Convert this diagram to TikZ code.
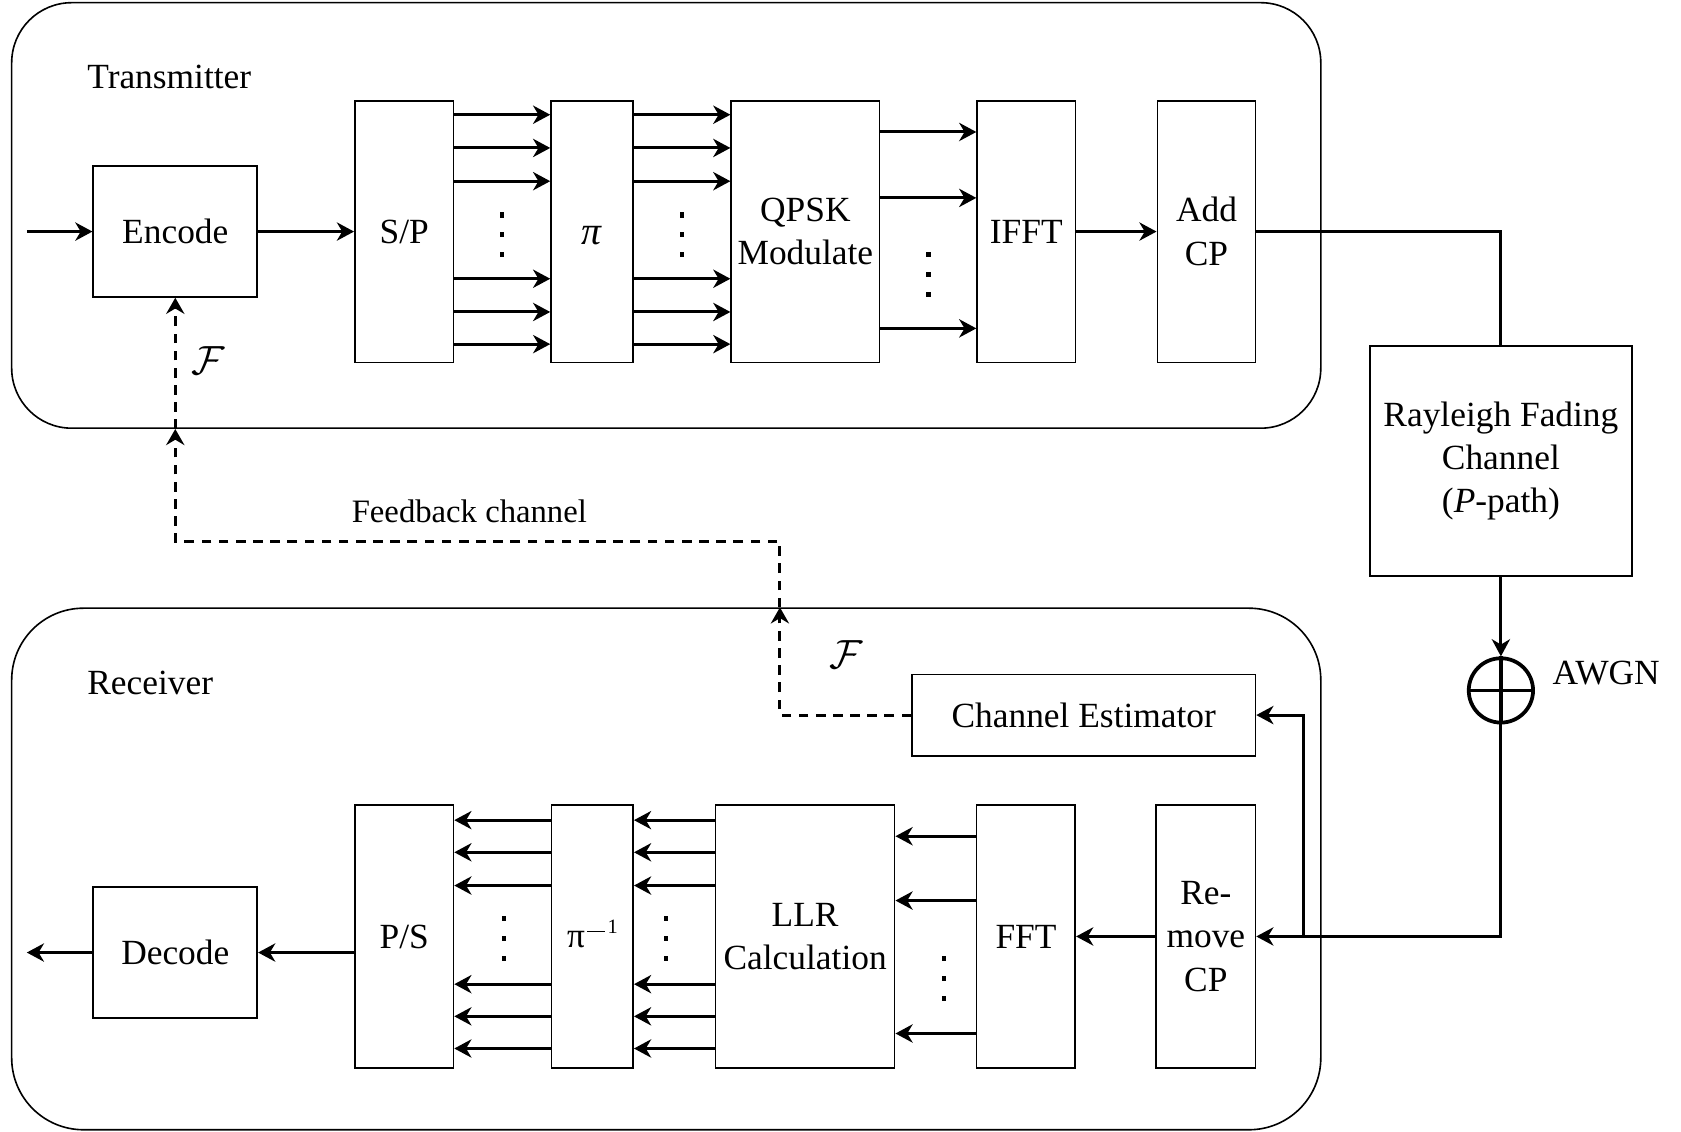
\RequirePackage{fix-cm}
\documentclass[tikz,border=0pt]{standalone}
\usepackage{fontspec}
\setmainfont{Liberation Serif}
\usetikzlibrary{arrows.meta,calc}

\tikzset{
  blk/.style={draw, line width=1.5pt, inner sep=0pt, align=center,
              font=\fontsize{33}{40.5}\selectfont},
  container/.style={draw, line width=1.5pt, inner sep=0pt},
  lbl/.style={inner sep=0pt, font=\fontsize{33}{40.5}\selectfont},
  wire/.style={line width=2.8pt},
  arr/.style={line width=2.8pt, -{Stealth[length=16pt,width=17pt,inset=5pt]}},
  fb/.style={line width=2.8pt, dash pattern=on 9pt off 7pt},
  fbarr/.style={fb, -{Stealth[length=15pt,width=17pt,inset=5pt]}},
  callig/.style={inner sep=0pt, font=\fontsize{38}{38}\selectfont},
}

\begin{document}
\begin{tikzpicture}[x=1pt, y=-1pt]
\useasboundingbox (0,0) rectangle (1568,1055);

% transmitter and receiver frames
\node[container, rounded corners=56pt, minimum width=1221.1pt, minimum height=396.9pt] (tx) at (621.45,200.95) {};
\node[container, rounded corners=67pt, minimum width=1221.1pt, minimum height=486.5pt] (rx) at (621.45,810.55) {};
\node[lbl, anchor=base west] (txlbl) at (81.3,83) {Transmitter};
\node[lbl, anchor=base west] (rxlbl) at (81.3,648) {Receiver};

% transmitter chain
\node[blk, minimum width=153pt, minimum height=122pt] (enc) at (163.5,216) {Encode};
\node[blk, minimum width=92pt, minimum height=244pt] (sp) at (377,216) {S/P};
\node[blk, minimum width=76.6pt, minimum height=244pt] (pi) at (552.3,216)
  {\smash{\raisebox{-12pt}{\fontsize{37}{37}\selectfont\textit{π}}}};
\node[blk, minimum width=138.3pt, minimum height=244pt] (qpsk) at (751.2,216) {QPSK\\Modulate};
\node[blk, minimum width=91.7pt, minimum height=244pt] (ifft) at (957.3,216) {IFFT};
\node[blk, minimum width=91.7pt, minimum height=244pt] (addcp) at (1125.4,216) {Add\\CP};

% channel
\node[blk, minimum width=244pt, minimum height=214pt] (ray) at (1400,430) {Rayleigh Fading\\Channel\\(\textit{P}-path)};
\node[circle, draw, line width=3.5pt, minimum size=60pt, inner sep=0pt] (sum) at (1400,644) {};
\draw[line width=3.5pt] (sum.north) -- (sum.south) (sum.west) -- (sum.east);
\node[lbl, anchor=west] (awgn) at (1448,628) {AWGN};

% receiver chain
\node[blk, minimum width=320.3pt, minimum height=76pt] (chest) at (1010.9,667) {Channel Estimator};
\node[blk, minimum width=92.5pt, minimum height=245pt] (remcp) at (1124.8,873.5) {Re-\\move\\CP};
\node[blk, minimum width=92pt, minimum height=245pt] (fft) at (957,873.5) {FFT};
\node[blk, minimum width=167pt, minimum height=245pt] (llr) at (751,873.5) {LLR\\Calculation};
\node[blk, minimum width=76pt, minimum height=245pt] (pinv) at (552.6,873.5)
  {\smash{\raisebox{-10pt}{π\kern2pt\raisebox{12.6pt}{\fontsize{19}{19}\selectfont\rule[1.6pt]{17pt}{1.3pt}\kern2pt 1}}}};
\node[blk, minimum width=92pt, minimum height=245pt] (ps) at (377,873.5) {P/S};
\node[blk, minimum width=153pt, minimum height=122pt] (dec) at (163.5,888.5) {Decode};

% transmitter connectors
\coordinate (inL) at (25,216);
\draw[arr] (inL) -- (enc.west);
\draw[arr] (enc.east) -- (sp.west);
\foreach \yy in {107,138,169,260,291,321} {
  \draw[arr] (sp.east |- 0,\yy) -- (pi.west |- 0,\yy);
  \draw[arr] (pi.east |- 0,\yy) -- (qpsk.west |- 0,\yy);
}
\foreach \yy in {123.1,184.6,306.3}
  \draw[arr] (qpsk.east |- 0,\yy) -- (ifft.west |- 0,\yy);
\draw[arr] (ifft.east) -- (addcp.west);

% channel connectors
\draw[wire] (addcp.east) -| (ray.north);
\draw[arr] (ray.south) -- (sum.north);
\draw[arr] (sum.south) |- (remcp.east);
\coordinate (br) at (1216,873.5);
\draw[arr] (br) |- (chest.east);

% receiver connectors
\draw[arr] (remcp.west) -- (fft.east);
\foreach \yy in {780,840,964}
  \draw[arr] (fft.west |- 0,\yy) -- (llr.east |- 0,\yy);
\foreach \yy in {765,795,826,918,948,978} {
  \draw[arr] (llr.west |- 0,\yy) -- (pinv.east |- 0,\yy);
  \draw[arr] (pinv.west |- 0,\yy) -- (ps.east |- 0,\yy);
}
\draw[arr] (ps.west |- dec.east) -- (dec.east);
\coordinate (outR) at (25,888.5);
\draw[arr] (dec.west) -- (outR);

% vertical ellipses between parallel streams
\foreach \xx/\ya in {468/200.5, 636/200.5, 866/237.4, 470/857, 621.5/857, 880.5/894}
  \foreach \d in {0,18.5,37}
    \fill (\xx-2,\ya+\d-2.4) rectangle ++(4,4.8);

% feedback path
\coordinate (fbR) at (rx.north -| 727.5,0);
\coordinate (fbTop) at (727.5,505);
\coordinate (fbL) at (tx.south -| enc.south);
\draw[fbarr] (chest.west) -| (fbR);
\draw[fbarr] (fbR) -- (fbTop) -| (fbL);
\draw[fbarr] (fbL) -- (enc.south);
\node[inner sep=0pt, anchor=base, font=\fontsize{30.5}{36}\selectfont] (fblbl) at (437.8,487) {Feedback channel};
\node[callig] (f1) at (194.4,336) {$\mathcal{F}$};
\node[callig] (f2) at (789,611) {$\mathcal{F}$};
\end{tikzpicture}
\end{document}
